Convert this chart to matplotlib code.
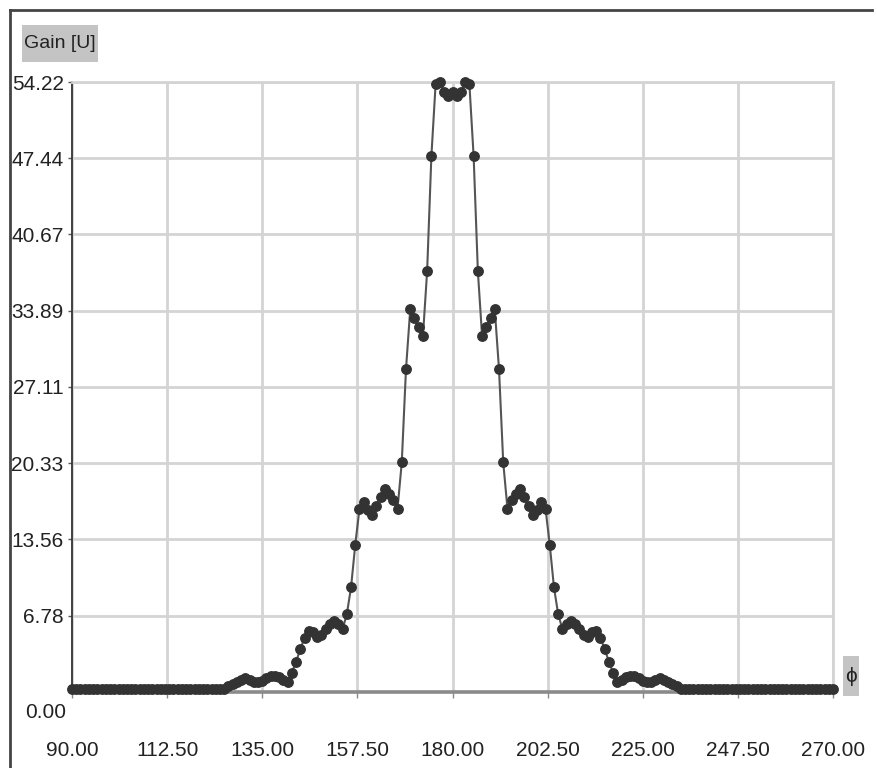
import numpy as np
import matplotlib.pyplot as plt
from matplotlib import font_manager
from matplotlib.lines import Line2D
from matplotlib.patches import Rectangle

# pick a narrow sans if it is there
names = {f.name for f in font_manager.fontManager.ttflist}
family = [n for n in ['Liberation Sans Narrow', 'Liberation Sans', 'DejaVu Sans'] if n in names]
plt.rcParams['font.family'] = family

# gain, 1 degree steps, 90..180 (pattern is mirrored about 180)
angle_left = list(range(90, 181))
gain_left = [0.25] * 37 + [
    0.5, 0.7, 0.9, 1.1, 1.2, 1.1, 0.9, 0.85, 1.0, 1.2,      # 127-136
    1.4, 1.45, 1.35, 1.1, 0.9, 1.7, 2.7, 3.8, 4.8, 5.4,     # 137-146
    5.3, 4.9, 5.1, 5.6, 6.0, 6.3, 6.0, 5.6, 6.9, 9.3,       # 147-156
    13.1, 16.3, 16.9, 16.2, 15.7, 16.5, 17.3, 18.0, 17.6, 17.1,  # 157-166
    16.3, 20.4, 28.7, 34.0, 33.2, 32.4, 31.6, 37.4, 47.6, 54.0,  # 167-176
    54.2, 53.3, 53.0, 53.3,                                 # 177-180
]
angle = list(range(90, 271))
gain = gain_left + gain_left[-2::-1]

y_ticks = [0.0, 6.78, 13.56, 20.33, 27.11, 33.89, 40.67, 47.44, 54.22]
x_ticks = [90.0, 112.5, 135.0, 157.5, 180.0, 202.5, 225.0, 247.5, 270.0]

W, H = 877, 768
fig = plt.figure(figsize=(W / 100, H / 100), dpi=100)
ax = fig.add_axes([72 / W, (H - 692) / H, (833 - 72) / W, (692 - 82) / H])

ax.plot(angle, gain, color='#555555', lw=1.5, marker='o', ms=6.8,
        mfc='#333333', mec='#333333', clip_on=False, zorder=5)

ax.set_xlim(90, 270)
ax.set_ylim(0, 54.22)
ax.set_xticks(x_ticks)
ax.set_xticklabels(['%.2f' % v for v in x_ticks])
ax.set_yticks(y_ticks)
ax.set_yticklabels(['%.2f' % v for v in y_ticks])
ax.yaxis.get_ticklabels()[0].set_visible(False)

ax.grid(True, color='#d4d4d4', lw=2)
ax.set_axisbelow(True)
for s in ['top', 'right']:
    ax.spines[s].set_color('#d4d4d4')
    ax.spines[s].set_linewidth(2)
ax.spines['left'].set_color('#333333')
ax.spines['left'].set_linewidth(1.3)
ax.spines['bottom'].set_color('#8a8a8a')
ax.spines['bottom'].set_linewidth(2.6)

ax.tick_params(axis='y', length=3, width=1, color='#555555', pad=3,
               labelsize=15, labelcolor='#222222')
ax.tick_params(axis='x', length=4, width=1, color='#888888', pad=31,
               labelsize=15, labelcolor='#222222')

# zero label sits below the axis line
ax.annotate('0.00', xy=(0, 0), xycoords='axes fraction', xytext=(-6, -20),
            textcoords='offset pixels', ha='right', va='center',
            fontsize=15, color='#222222')

# axis captions in grey boxes
fig.add_artist(Rectangle((22 / W, 1 - 62 / H), 76 / W, 37 / H,
                         fc='#c4c4c4', ec='none', transform=fig.transFigure))
fig.text(60 / W, 1 - 44 / H, 'Gain [U]', fontsize=14, color='#222222',
         ha='center', va='center')
fig.add_artist(Rectangle((843 / W, 1 - 696 / H), 16 / W, 40 / H,
                         fc='#c4c4c4', ec='none', transform=fig.transFigure))
fig.text(851 / W, 1 - 676 / H, '\u03d5', fontsize=15, color='#222222',
         ha='center', va='center')

# outer frame, top and left
fig.add_artist(Line2D([10 / W, 872 / W], [1 - 10 / H, 1 - 10 / H],
                      color='#444444', lw=2, transform=fig.transFigure))
fig.add_artist(Line2D([10 / W, 10 / W], [1 - 10 / H, 0],
                      color='#444444', lw=2, transform=fig.transFigure))

fig.savefig('out.png', dpi=100, facecolor='white')
